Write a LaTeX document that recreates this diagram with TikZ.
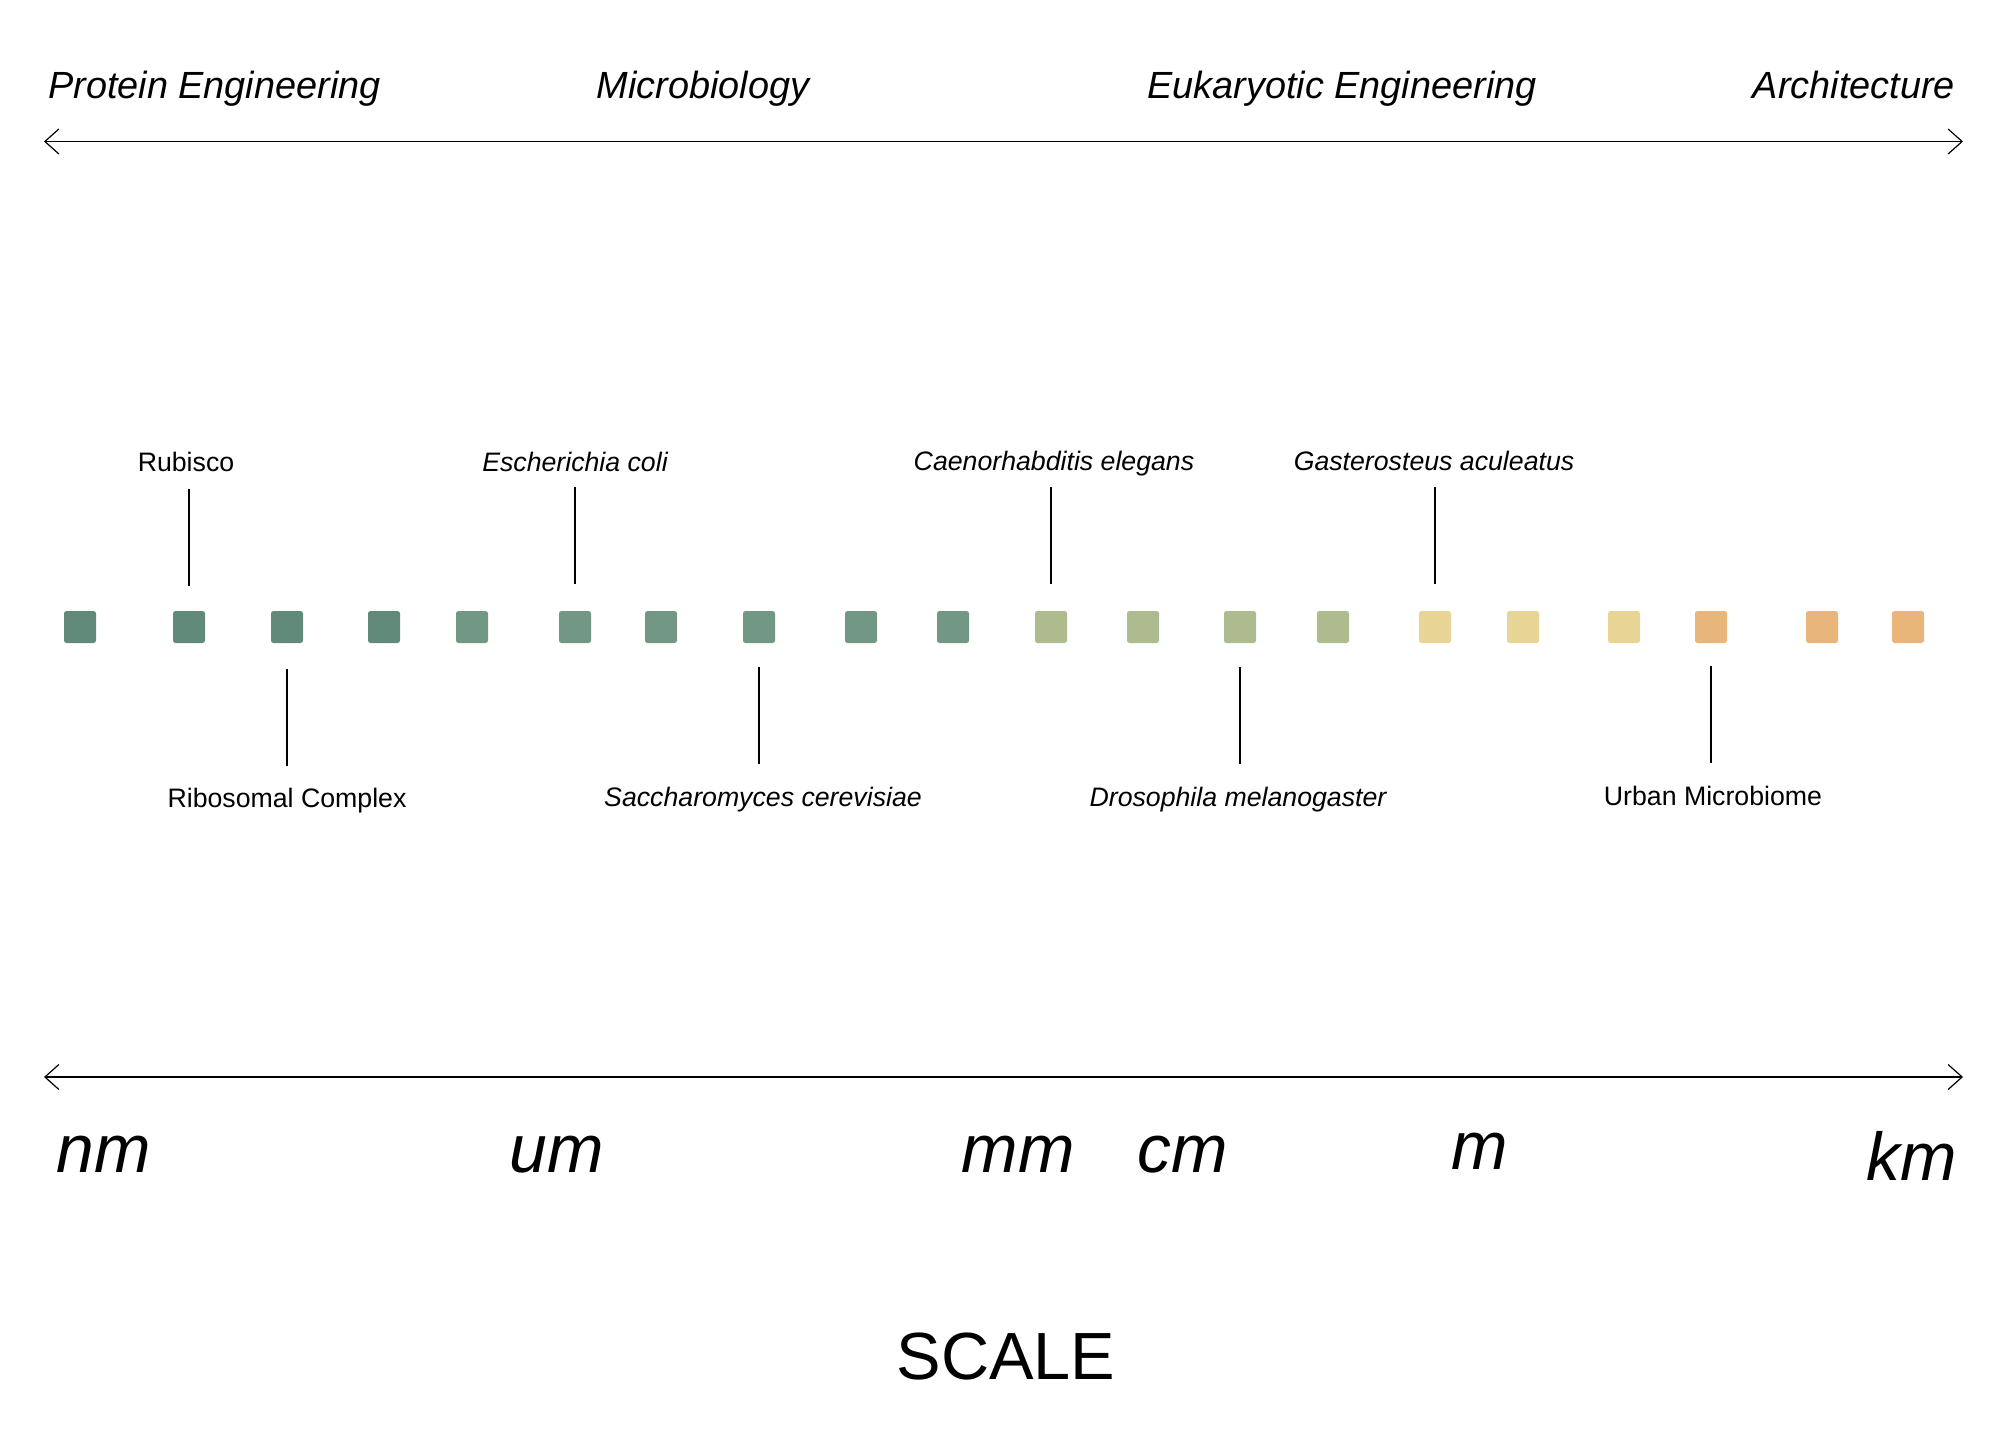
\documentclass[tikz,border=0pt]{standalone}
\usepackage{fontspec}
\setmainfont{Liberation Sans}
\usetikzlibrary{arrows.meta}
\definecolor{sqA}{HTML}{618A7A}
\definecolor{sqB}{HTML}{729784}
\definecolor{sqC}{HTML}{AEBB8F}
\definecolor{sqD}{HTML}{E8D494}
\definecolor{sqE}{HTML}{E8B57B}
\begin{document}
\begin{tikzpicture}[x=1bp,y=-1bp,
  sq/.style={rectangle, minimum size=32bp, inner sep=0pt, rounded corners=2.5bp, draw=none},
  lab/.style={inner sep=0pt, anchor=base, font=\fontsize{26.8}{30}\selectfont},
  ilab/.style={inner sep=0pt, anchor=base, font=\fontsize{26.8}{30}\selectfont\itshape},
  field/.style={inner sep=0pt, anchor=base, font=\fontsize{38}{42}\selectfont\itshape},
  unitlab/.style={inner sep=0pt, anchor=base, font=\fontsize{68}{76}\selectfont\itshape},
  title/.style={inner sep=0pt, anchor=base, font=\fontsize{67}{76}\selectfont},
  axis/.style={line width=1.6bp, arrows={Straight Barb[length=14bp,width=25bp,line width=1.2bp]-Straight Barb[length=14bp,width=25bp,line width=1.2bp]}},
  leader/.style={line width=1.1bp, black}
]
\useasboundingbox (0,0) rectangle (1998,1455);

% field labels
\node[field, anchor=base west] (pe) at (48,99) {Protein Engineering};
\node[field] (mb) at (703,99) {Microbiology};
\node[field] (ee) at (1342,99) {Eukaryotic Engineering};
\node[field, anchor=base east] (ar) at (1955,99) {Architecture};

% top axis
\coordinate (tl) at (44,141.5);
\coordinate (tr) at (1963,141.5);
\draw[axis] (tl) -- (tr);

% squares
\node[sq, fill=sqA] (s1) at (80,627) {};
\node[sq, fill=sqA] (s2) at (189,627) {};
\node[sq, fill=sqA] (s3) at (287,627) {};
\node[sq, fill=sqA] (s4) at (384,627) {};
\node[sq, fill=sqB] (s5) at (472,627) {};
\node[sq, fill=sqB] (s6) at (575,627) {};
\node[sq, fill=sqB] (s7) at (661,627) {};
\node[sq, fill=sqB] (s8) at (759,627) {};
\node[sq, fill=sqB] (s9) at (861,627) {};
\node[sq, fill=sqB] (s10) at (953,627) {};
\node[sq, fill=sqC] (s11) at (1051,627) {};
\node[sq, fill=sqC] (s12) at (1143,627) {};
\node[sq, fill=sqC] (s13) at (1240,627) {};
\node[sq, fill=sqC] (s14) at (1333,627) {};
\node[sq, fill=sqD] (s15) at (1435,627) {};
\node[sq, fill=sqD] (s16) at (1523,627) {};
\node[sq, fill=sqD] (s17) at (1624,627) {};
\node[sq, fill=sqE] (s18) at (1711,627) {};
\node[sq, fill=sqE] (s19) at (1822,627) {};
\node[sq, fill=sqE] (s20) at (1908,627) {};

% labels above
\node[lab] (rub) at (186,471) {Rubisco};
\node[ilab] (eco) at (575,471) {Escherichia coli};
\node[ilab] (cel) at (1054,470) {Caenorhabditis elegans};
\node[ilab] (gac) at (1434,470) {Gasterosteus aculeatus};

% labels below
\node[lab] (rib) at (287,807) {Ribosomal Complex};
\node[ilab] (sce) at (763,806) {Saccharomyces cerevisiae};
\node[ilab] (dme) at (1238,806) {Drosophila melanogaster};
\node[lab] (urb) at (1713,805) {Urban Microbiome};

% leaders above
\draw[leader, shorten <=25bp, shorten >=18bp] (s2.north) -- (s2.north |- rub.base);
\draw[leader, shorten <=27bp, shorten >=16bp] (s6.north) -- (s6.north |- eco.base);
\draw[leader, shorten <=27bp, shorten >=17bp] (s11.north) -- (s11.north |- cel.base);
\draw[leader, shorten <=27bp, shorten >=17bp] (s15.north) -- (s15.north |- gac.base);

% leaders below
\draw[leader, shorten <=26bp, shorten >=41bp] (s3.south) -- (s3.south |- rib.base);
\draw[leader, shorten <=24bp, shorten >=42bp] (s8.south) -- (s8.south |- sce.base);
\draw[leader, shorten <=24bp, shorten >=42bp] (s13.south) -- (s13.south |- dme.base);
\draw[leader, shorten <=23bp, shorten >=42bp] (s18.south) -- (s18.south |- urb.base);

% bottom axis
\coordinate (bl) at (44,1077);
\coordinate (br) at (1963,1077);
\draw[axis] (bl) -- (br);

% units
\node[unitlab] (nm) at (104,1172) {nm};
\node[unitlab] (um) at (557,1172) {um};
\node[unitlab] (mm) at (1018,1172) {mm};
\node[unitlab] (cm) at (1183,1172) {cm};
\node[unitlab] (m) at (1480,1169) {m};
\node[unitlab] (km) at (1912,1180) {km};

% title
\node[title] (scale) at (1006,1379) {SCALE};
\end{tikzpicture}
\end{document}
